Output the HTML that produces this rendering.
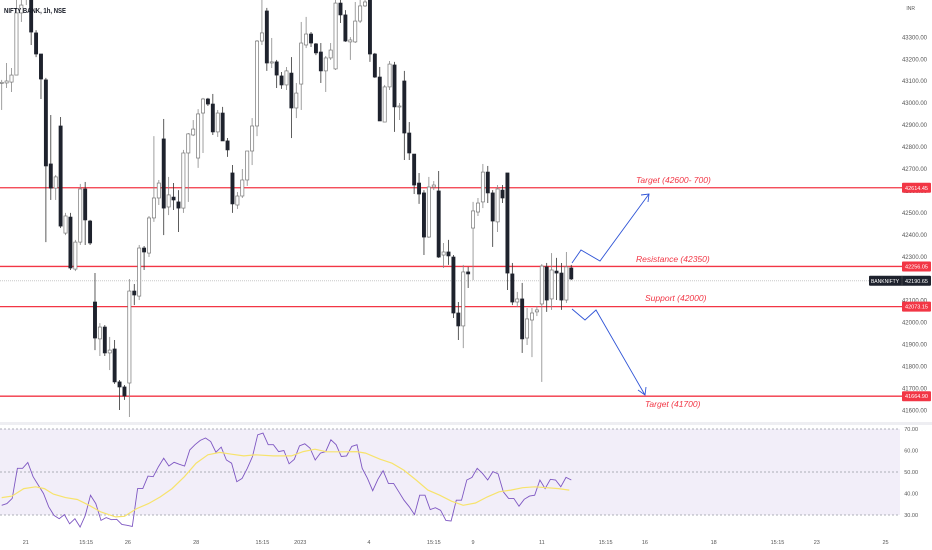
<!DOCTYPE html>
<html><head><meta charset="utf-8"><style>
html,body{margin:0;padding:0;background:#fff;width:932px;height:550px;overflow:hidden}
svg{display:block;font-family:"Liberation Sans",sans-serif}
</style></head><body>
<svg id="chart" width="932" height="550" viewBox="0 0 932 550" xmlns="http://www.w3.org/2000/svg">
<rect x="0" y="0" width="932" height="550" fill="#ffffff"/>
<g id="main"></g>
<g id="rsi"></g>
<g id="axes"></g>
<text x="4" y="13" font-size="7" font-weight="bold" fill="#131722" textLength="62" lengthAdjust="spacingAndGlyphs">NIFTY BANK, 1h, NSE</text>
</svg>
<script>
const O=[43090,43092,43096,43128,43411,43493,43493,43320,43224,43106,42723,42613,42896,42408,42481,42244,42367,42609,42463,42094,41926,41980,41862,41880,41730,41707,41725,42144,42121,42340,42317,42477,42568,42837,42527,42572,42550,42522,42773,42855,42750,42955,43019,42996,42869,42955,42828,42682,42536,42577,42650,42782,42896,43283,43420,43183,43188,43124,43083,43137,42978,43087,43265,43315,43270,43233,43147,43206,43156,43456,43402,43279,43279,43374,43443,43493,43224,43119,42914,43074,43174,42983,43101,42864,42768,42636,42591,42390,42618,42600,42308,42322,42299,42044,41985,42231,42431,42504,42550,42686,42591,42459,42604,42682,42222,42094,42108,41930,42012,42049,42085,42254,42108,42235,42226,42103,42249];
const H=[43106,43183,43160,43470,43493,43561,43516,43333,43224,43115,42946,42673,42937,42500,42500,42377,42632,42641,42468,42226,41998,41989,41935,41921,41739,41716,42199,42176,42354,42349,42486,42850,42650,42928,42664,42636,42604,42787,42864,42923,42973,43024,43024,43042,42969,42983,42841,42718,42595,42700,42782,42932,43288,43470,43434,43297,43197,43142,43165,43210,43092,43370,43393,43324,43274,43274,43215,43274,43470,43470,43424,43301,43461,43470,43493,43516,43229,43165,43083,43192,43188,43001,43147,42914,42768,42682,42604,42664,42645,42691,42363,42377,42308,42094,42263,42254,42550,42568,42723,42714,42604,42627,42627,42682,42272,42140,42181,42067,42067,42076,42267,42272,42317,42295,42272,42322,42263];
const L=[42969,43069,43051,43128,43370,43447,43265,43210,43019,42367,42559,42559,42431,42399,42240,42235,42354,42354,42354,41875,41848,41848,41784,41721,41602,41648,41570,42080,42103,42240,42299,42459,42536,42399,42490,42513,42413,42500,42550,42850,42705,42773,42987,42855,42846,42828,42755,42500,42518,42568,42623,42718,42850,43265,43147,43160,43069,43065,43060,42841,42932,42969,43251,43256,43219,43092,43051,43197,43151,43365,43279,43197,43274,43365,43438,43188,43115,42919,42914,43060,42869,42923,42741,42741,42586,42541,42308,42386,42604,42295,42249,42263,42021,41921,41884,42158,42194,42486,42522,42545,42345,42413,42545,42149,42080,42071,41862,41898,41843,42030,41730,42049,42058,42103,42058,42090,42194];
const C=[43095,43101,43128,43411,43447,43516,43324,43224,43110,42714,42613,42664,42440,42486,42249,42367,42609,42468,42363,41930,41980,41862,41875,41730,41707,41666,42144,42126,42340,42322,42477,42568,42636,42522,42582,42559,42522,42773,42860,42882,42951,43019,42996,42869,42955,42828,42787,42541,42577,42650,42782,42896,43283,43320,43183,43188,43128,43083,43147,42978,43046,43274,43315,43274,43229,43147,43206,43242,43456,43402,43283,43288,43374,43443,43461,43224,43119,42919,43074,43178,42983,42987,42864,42773,42627,42586,42390,42618,42627,42299,42322,42304,42044,41985,42231,42222,42509,42545,42686,42591,42463,42609,42568,42226,42094,42108,41926,42017,42044,42058,42258,42103,42240,42226,42103,42254,42199];
const rsiVals=[34.5,35.3,37.7,51.7,51.7,54.4,47.8,43.9,40,33.8,29.8,28.3,30.2,25.9,28.3,24.4,29.8,39.2,35.3,27.5,28.8,27.8,28,25.6,25.2,24.7,42.3,42.3,48.1,47.8,52.5,56.4,52.8,54.5,53.6,52.8,60.3,62.7,64.7,65.8,64.2,59.2,61.6,55.6,54.1,45.5,47,51.7,57.2,67.3,68.1,62.7,62.7,59.5,60,53.8,55.9,62.2,63.1,61.1,55.6,58.8,59.5,65,62.7,57.2,57.5,61.9,62.7,51.7,47,41.3,46.6,50.6,44.7,44.7,40.8,36.9,33.8,30.2,39.2,39.2,32.5,33.4,32.2,27.5,27.2,36.9,36.9,46.3,47.5,51.7,49.4,46.3,50.2,49.1,40.8,37.7,37.7,34.1,37.3,38.8,39.2,46.3,42.3,46.6,46.3,43.1,47.5,46.3];
const maIdx=[0,2.1,4.5,6.9,8.7,10.5,13,15.4,17.8,20.2,23.2,25,27.5,29.9,32.3,34.7,37.2,39.6,42,44.4,46.8,49.3,51.7,55.3,59,61.4,63.8,66.2,69.8,72.3,74.1,77.1,79.5,81.9,84.4,86.8,89.2,91.6,94,96.5,98.9,101.3,103.7,106.1,108.6,111,113.4,115.6];
const maVals=[38.1,38.8,42.3,43.1,42.3,39.7,38.1,37.2,34.5,31.4,29.1,29.4,33,35.3,38.4,42.3,47.8,54.1,58,59.1,58.3,57.5,58,57.5,57.5,59.5,60.6,59.4,59.4,59.5,58.8,55.9,54.1,50.9,46.3,41.6,39.2,36.4,34.5,35.6,38.4,40.8,41.6,42.7,43.1,42.7,42.3,41.6];
const priceTicks=[43300,43200,43100,43000,42900,42800,42700,42600,42500,42400,42300,42200,42100,42000,41900,41800,41700,41600];
const levels=[42614.45,42256.05,42073.15,41664.90];
const levelLabels=["42614.45","42256.05","42073.15","41664.90"];
const lastPrice=42190.65;
const rsiTicks=[70,60,50,40,30];
const timeLabels=["21","15:15","26","28","15:15","2023","4","15:15","9","11","15:15","16","18","15:15","23","25"];
const timeIdx=[4.9,17.2,25.7,39.6,53.1,60.8,74.8,88,96,110,123,131,145,158,166,180];

const NS="http://www.w3.org/2000/svg";
function mk(p,t,a){const e=document.createElementNS(NS,t);for(const k in a)e.setAttribute(k,a[k]);p.appendChild(e);return e;}
const xS=i=>1.7+i*4.91;
const yP=p=>(43470-p)/4.556;
const yR=v=>429+(70-v)*2.15;
const main=document.getElementById('main'),rsi=document.getElementById('rsi'),axes=document.getElementById('axes');

priceTicks.forEach(p=>{const t=mk(axes,'text',{x:927,y:yP(p)+2,'font-size':6,fill:'#555','text-anchor':'end'});t.textContent=p.toFixed(2);

});
const inr=mk(axes,'text',{x:915,y:10,'font-size':5,fill:'#555','text-anchor':'end'});inr.textContent="INR";



const lp=mk(main,'line',{x1:0,x2:900,y1:yP(lastPrice),y2:yP(lastPrice),stroke:'#c8c8c8','stroke-width':1,'stroke-dasharray':'1,1'});



levels.forEach((p,i)=>{const y=yP(p);
const l=mk(main,'line',{x1:0,x2:902,y1:y,y2:y,stroke:'#f23645','stroke-width':1.3});


const r=mk(axes,'rect',{x:902,y:y-5,width:29,height:10,fill:'#f23645',rx:1});


const t=mk(axes,'text',{x:916.5,y:y+2,'font-size':5.5,fill:'#fff','text-anchor':'middle'});t.textContent=levelLabels[i];

});

for(let i=0;i<O.length;i++){const x=xS(i),up=C[i]>=O[i];
const g=mk(main,'g',{});


mk(g,'line',{x1:x,x2:x,y1:yP(H[i]),y2:yP(L[i]),stroke:up?'#888':'#333','stroke-width':0.8});
const t=Math.min(yP(O[i]),yP(C[i])),h=Math.max(1,Math.abs(yP(O[i])-yP(C[i])));
mk(g,'rect',{x:x-1.6,y:t,width:3.2,height:h,fill:up?'#fff':'#1e222d',stroke:up?'#777':'#1e222d','stroke-width':0.7});}

const bt=mk(axes,'rect',{x:869,y:yP(lastPrice)-5,width:62,height:10,fill:'#1e222d',rx:1});


const bt1=mk(axes,'text',{x:885,y:yP(lastPrice)+2,'font-size':5,fill:'#fff','text-anchor':'middle'});bt1.textContent="BANKNIFTY";


const bt2=mk(axes,'text',{x:916.5,y:yP(lastPrice)+2,'font-size':5.5,fill:'#fff','text-anchor':'middle'});bt2.textContent=lastPrice.toFixed(2);


mk(axes,'line',{x1:902,x2:902,y1:yP(lastPrice)-5,y2:yP(lastPrice)+5,stroke:'#555','stroke-width':0.6});

const a1=mk(main,'polyline',{points:'572,263 581,250 600,261 649,194',fill:'none',stroke:'#2f54d6','stroke-width':0.9});


mk(main,'polyline',{points:'641,195 649,194 648,202',fill:'none',stroke:'#2f54d6','stroke-width':0.9});
const a2=mk(main,'polyline',{points:'572,309 585,320 596,310 645,395',fill:'none',stroke:'#2f54d6','stroke-width':0.9});


mk(main,'polyline',{points:'638,390 645,395 646,387',fill:'none',stroke:'#2f54d6','stroke-width':0.9});

[["Target (42600- 700)",636,183,80],["Resistance (42350)",636,262,76],["Support (42000)",645,301,65],["Target (41700)",645,407,60]].forEach(a=>{
const r=mk(main,'rect',{x:a[1]-2,y:a[2]-8,width:a[3],height:10,fill:'#fff'});


const t=mk(main,'text',{x:a[1],y:a[2],'font-size':8.5,fill:'#f23645','font-style':'italic'});t.textContent=a[0];

});

mk(axes,'rect',{x:0,y:422,width:932,height:3,fill:'#eeeef2'});

const band=mk(rsi,'rect',{x:0,y:yR(70),width:900,height:yR(30)-yR(70),fill:'#7e57c2','fill-opacity':0.1});


[70,50,30].forEach(v=>{const l=mk(rsi,'line',{x1:0,x2:900,y1:yR(v),y2:yR(v),stroke:'#9598a1','stroke-width':0.8,'stroke-dasharray':'2,2'});

});
rsiTicks.forEach(v=>{const t=mk(axes,'text',{x:918,y:yR(v)+2,'font-size':5.5,fill:'#555','text-anchor':'end'});t.textContent=v.toFixed(2);

});
const step=(O.length-1)/(rsiVals.length-1);
const rl=mk(rsi,'polyline',{points:rsiVals.map((v,k)=>xS(k*step).toFixed(1)+','+yR(v).toFixed(1)).join(' '),fill:'none',stroke:'#7e57c2','stroke-width':0.9});


const ml=mk(rsi,'polyline',{points:maVals.map((v,k)=>xS(maIdx[k]).toFixed(1)+','+yR(v).toFixed(1)).join(' '),fill:'none',stroke:'#f7e36c','stroke-width':1.2});



timeLabels.forEach((s,k)=>{const t=mk(axes,'text',{x:xS(timeIdx[k]),y:544,'font-size':5.5,fill:'#555','text-anchor':'middle'});t.textContent=s;

});
</script>
</body></html>
